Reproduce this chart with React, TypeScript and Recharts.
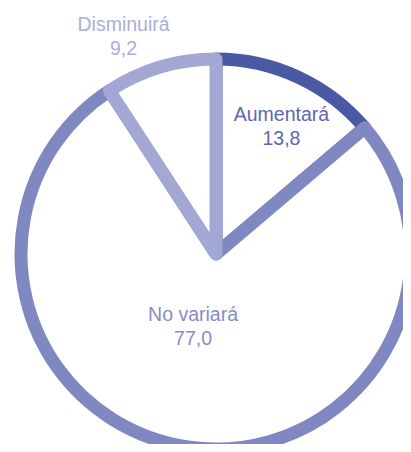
import { PieChart, Pie, Cell } from "recharts"

// respuestas (%)
const categories = ["Aumentará", "No variará", "Disminuirá"]
const values = [13.8, 77.0, 9.2]

const strokeColors = ["#4a59a4", "#7f88c0", "#a2a7d3"]
const textColors = ["#5c67af", "#858dc5", "#a9aedb"]
// label placement: distance from the centre and a small angle shift, per slice
const labelRadius = [148, 71, 241]
const labelShift = [-1.4, -10.6, 6]

const data = categories.map((name, i) => ({ name, value: values[i] }))

const RAD = Math.PI / 180

function renderLabel(props: any) {
  const { cx, cy, midAngle, index, value } = props
  const r = labelRadius[index]
  const a = (midAngle + labelShift[index]) * RAD
  const x = cx + r * Math.cos(-a)
  const y = cy + r * Math.sin(-a)
  return (
    <text
      x={x}
      y={y}
      textAnchor="middle"
      fill={textColors[index]}
      fontSize={19.5}
      fontFamily="'Liberation Sans', Arial, sans-serif"
    >
      <tspan x={x} dy={0}>{categories[index]}</tspan>
      <tspan x={x} dy={23.5}>{value.toFixed(1).replace(".", ",")}</tspan>
    </text>
  )
}

export default function App() {
  return (
    <div style={{ margin: -8, background: "#fff" }}>
      <PieChart width={411} height={452} margin={{ top: 0, right: 0, bottom: 0, left: 0 }}>
        <Pie
          data={data}
          dataKey="value"
          nameKey="name"
          cx={216}
          cy={254}
          outerRadius={195}
          startAngle={90}
          endAngle={-270}
          label={renderLabel}
          labelLine={false}
          isAnimationActive={false}
        >
          {data.map((d, i) => (
            <Cell
              key={d.name}
              fill="#ffffff"
              stroke={strokeColors[i]}
              strokeWidth={13}
              strokeLinejoin="round"
            />
          ))}
        </Pie>
      </PieChart>
    </div>
  )
}
